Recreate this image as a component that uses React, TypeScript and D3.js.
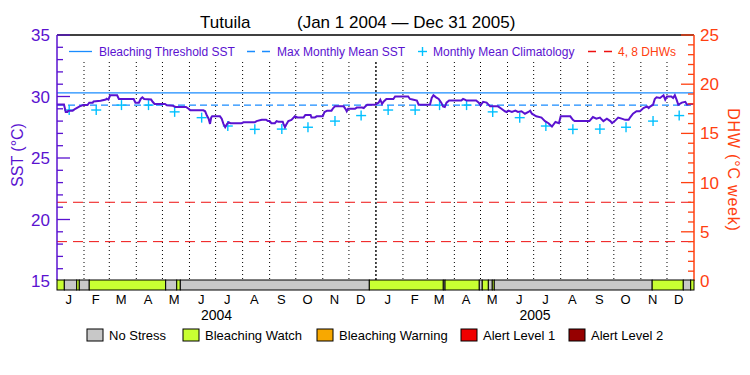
import React from 'react';
import * as d3 from 'd3';

// daily SST (days since Jan 1 2004) at the turning points
const sstDay = [0, 8, 10, 12, 13, 18, 21, 26, 30, 35, 37, 41, 42, 50, 56, 57, 59, 61, 69, 71, 88, 90, 94, 96, 98, 100, 108, 110, 112, 124, 126, 133, 136, 148, 151, 153, 168, 170, 172, 174, 175.6, 177, 178, 187, 189, 191, 193, 195, 197, 199, 212, 214, 227, 229, 235, 240, 242, 244, 246, 250, 252, 254, 259, 260, 261.6, 263, 265.5, 269, 273, 276, 283, 285, 291, 292, 296, 298, 305, 307, 310, 315, 317, 319, 329, 331, 332.5, 334, 342, 344, 350, 352, 354, 356, 365, 369, 371, 373, 375, 378, 386, 388, 403, 405, 408, 413, 415, 428, 430, 432, 435, 438, 441, 443, 445, 447, 450, 464, 466, 468, 470, 481, 484, 486, 489, 493, 497, 506, 510, 514, 516, 518, 522, 526, 529, 533, 537, 541, 543, 545, 550, 556, 560, 564, 568, 572, 576, 578, 589, 592, 594, 611, 615, 619, 623, 627, 631, 635, 637, 640, 644, 648, 652, 656, 658, 661, 665, 669, 673, 677, 679, 681, 684, 686, 688, 692, 696, 698, 700, 705, 707, 709, 711, 713, 717, 721, 723, 727, 730];
const sstVal = [29.35, 29.35, 28.75, 28.75, 28.85, 28.85, 29.0, 29.2, 29.3, 29.3, 29.5, 29.5, 29.6, 29.65, 29.75, 29.82, 29.75, 30.1, 30.1, 29.8, 29.8, 29.5, 29.5, 29.8, 29.93, 29.8, 29.75, 29.55, 29.39, 29.39, 29.29, 29.25, 29.15, 29.15, 29.0, 28.88, 28.88, 28.8, 28.45, 28.2, 27.77, 28.3, 28.39, 28.39, 28.2, 27.77, 27.5, 27.75, 27.9, 27.83, 27.83, 27.9, 27.9, 28.0, 28.11, 28.11, 28.0, 28.0, 27.83, 27.83, 28.0, 27.95, 27.95, 27.75, 27.5, 27.7, 28.0, 28.1, 28.39, 28.3, 28.3, 28.5, 28.5, 28.3, 28.3, 28.39, 28.39, 28.74, 28.85, 28.85, 29.06, 29.2, 29.2, 29.0, 28.8, 29.0, 29.0, 29.1, 29.1, 29.06, 29.2, 29.33, 29.33, 29.5, 29.74, 29.4, 29.6, 29.8, 29.8, 30.0, 30.0, 29.8, 29.75, 29.67, 29.33, 29.33, 29.88, 30.1, 29.93, 29.8, 29.5, 29.2, 29.15, 29.5, 29.67, 29.67, 29.8, 29.75, 29.67, 29.67, 29.5, 29.28, 29.57, 29.5, 29.2, 29.2, 29.0, 28.8, 28.74, 28.85, 28.74, 28.85, 28.74, 28.8, 28.6, 28.74, 28.85, 28.6, 28.39, 28.28, 28.0, 27.83, 27.56, 27.93, 27.83, 28.39, 28.39, 28.1, 28.0, 28.0, 28.33, 28.2, 28.28, 28.0, 28.2, 28.0, 27.83, 28.0, 28.28, 28.2, 28.1, 28.1, 28.33, 28.6, 28.8, 28.8, 29.06, 29.2, 29.06, 29.2, 29.33, 29.8, 29.93, 29.88, 30.1, 29.74, 30.0, 30.0, 29.88, 30.1, 29.74, 29.33, 29.5, 29.57, 29.33, 29.39, 29.39];

// monthly mean climatology, Jan..Dec
const climatology = [28.9, 28.9, 29.3, 29.3, 28.75, 28.28, 27.6, 27.33, 27.35, 27.5, 28.0, 28.45];
const maxMonthlyMean = 29.3;
const bleachingThreshold = 30.3;
const dhwLevels = [4, 8];

// stress level bar: segment boundaries (days) and level per segment
const statusBreaks = [0, 8.4, 22.6, 25.6, 37, 124.7, 137.4, 141.5, 358.4, 443.3, 445.3, 484.6, 488, 495, 499.5, 501.8, 683, 718.7, 727.2, 731];
const statusLevels = [1, 0, 1, 0, 1, 0, 1, 0, 1, 0, 1, 0, 1, 0, 1, 0, 1, 0, 1];
const statusNames = ['No Stress', 'Bleaching Watch', 'Bleaching Warning', 'Alert Level 1', 'Alert Level 2'];
const statusColors = ['#c8c8c8', '#c8ff32', '#f8a800', '#f00000', '#960000'];

const monthLetters = ['J', 'F', 'M', 'A', 'M', 'J', 'J', 'A', 'S', 'O', 'N', 'D'];
const sstTicks = [15, 20, 25, 30, 35];
const dhwTicks = [0, 5, 10, 15, 20, 25];

const PURPLE = '#5a12d0';
const ORANGE = '#ff4010';
const BLUE = '#1a8cff';
const CYAN = '#00c0ff';
const RED = '#ee1010';
const FONT = 'Liberation Sans, Arial, sans-serif';

const DAY = 864e5;
const t0 = Date.UTC(2004, 0, 1);
const toDate = (d: number) => new Date(t0 + d * DAY);

const App = () => {
  const W = 750, H = 375;
  const left = 57, right = 694, top = 35, bottom = 281;
  const barTop = 280, barBottom = 290;

  const x = d3.scaleUtc()
    .domain([new Date(t0), new Date(Date.UTC(2006, 0, 1))])
    .range([left, right]);
  const y = d3.scaleLinear().domain([15, 35]).range([bottom, top]);
  const yDhw = d3.scaleLinear().domain([0, 25]).range([bottom, top]);

  const months = d3.utcMonths(new Date(t0), new Date(Date.UTC(2006, 0, 1)));

  const sstLine = d3.line<number>()
    .x((_, i) => x(toDate(sstDay[i])))
    .y(d => y(d));

  const climPoints = months.map(m => ({
    date: new Date(m.getTime() + 14 * DAY),
    value: climatology[m.getUTCMonth()],
  }));

  const sstMinor = d3.range(15, 36, 1);
  const dhwMinor = d3.range(0, 26, 1);

  return (
    <div style={{ position: 'absolute', left: 0, top: 0 }}>
      <svg width={W} height={H} style={{ display: 'block', background: '#fff' }} fontFamily={FONT}>
        {/* title */}
        <text x={200} y={28} fontSize={17} fill="#000">Tutuila</text>
        <text x={297} y={28} fontSize={17} fill="#000">(Jan 1 2004 — Dec 31 2005)</text>

        {/* month grid */}
        {months.slice(1).map((m, i) => {
          const yearStart = m.getUTCMonth() === 0;
          return (
            <line key={'g' + i} x1={x(m)} x2={x(m)} y1={62} y2={barTop}
              stroke="#000" strokeWidth={yearStart ? 1.4 : 1}
              strokeDasharray={yearStart ? '2,2' : '1,3'} />
          );
        })}

        {/* DHW 4 and 8 */}
        {dhwLevels.map(v => (
          <line key={'d' + v} x1={left} x2={right} y1={yDhw(v)} y2={yDhw(v)}
            stroke={RED} strokeWidth={1} strokeDasharray="10,6" />
        ))}

        {/* thresholds */}
        <line x1={left} x2={right} y1={y(bleachingThreshold)} y2={y(bleachingThreshold)} stroke={BLUE} strokeWidth={1.3} />
        <line x1={left} x2={right} y1={y(maxMonthlyMean)} y2={y(maxMonthlyMean)} stroke={BLUE} strokeWidth={1.3} strokeDasharray="7,4" />

        {/* climatology crosses */}
        {climPoints.map((p, i) => {
          const cx = x(p.date), cy = y(p.value);
          return (
            <g key={'c' + i} stroke={CYAN} strokeWidth={1.4}>
              <line x1={cx - 5} x2={cx + 5} y1={cy} y2={cy} />
              <line x1={cx} x2={cx} y1={cy - 5} y2={cy + 5} />
            </g>
          );
        })}

        {/* SST */}
        <path d={sstLine(sstVal) || ''} fill="none" stroke={PURPLE} strokeWidth={2} strokeLinejoin="miter" />

        {/* top border */}
        <line x1={left} x2={right} y1={top} y2={top} stroke="#000" strokeWidth={1.3} />

        {/* legend inside plot */}
        <g fontSize={12}>
          <line x1={69} x2={92} y1={51.5} y2={51.5} stroke={BLUE} strokeWidth={1.3} />
          <text x={99} y={55.5} fill={PURPLE}>Bleaching Threshold SST</text>
          <line x1={247} x2={270} y1={51.5} y2={51.5} stroke={BLUE} strokeWidth={1.3} strokeDasharray="8,7" />
          <text x={277} y={55.5} fill={PURPLE}>Max Monthly Mean SST</text>
          <line x1={418} x2={427} y1={51.5} y2={51.5} stroke={CYAN} strokeWidth={1.4} />
          <line x1={422.5} x2={422.5} y1={47} y2={56} stroke={CYAN} strokeWidth={1.4} />
          <text x={433} y={55.5} fill={PURPLE}>Monthly Mean Climatology</text>
          <line x1={588} x2={612} y1={51.5} y2={51.5} stroke={RED} strokeWidth={1.3} strokeDasharray="8,8" />
          <text x={618} y={55.5} fill={ORANGE}>4, 8 DHWs</text>
        </g>

        {/* left axis */}
        <line x1={left} x2={left} y1={top} y2={barTop} stroke={PURPLE} strokeWidth={1.5} />
        {sstMinor.map(v => (
          <line key={'sm' + v} x1={left} x2={left + (v % 5 === 0 ? 13 : 6)} y1={y(v)} y2={y(v)} stroke={PURPLE} strokeWidth={1.3} />
        ))}
        {sstTicks.map(v => (
          <text key={'st' + v} x={50} y={y(v) + 6} textAnchor="end" fontSize={17} fill={PURPLE}>{v}</text>
        ))}
        <text transform="translate(23,155) rotate(-90)" textAnchor="middle" fontSize={16} fill={PURPLE}>SST (°C)</text>

        {/* right axis */}
        <line x1={right} x2={right} y1={top} y2={bottom} stroke={ORANGE} strokeWidth={1.5} />
        {dhwMinor.map(v => (
          <line key={'dm' + v} x1={right - (v % 5 === 0 ? 13 : 6)} x2={right} y1={yDhw(v)} y2={yDhw(v)} stroke={ORANGE} strokeWidth={1.3} />
        ))}
        {dhwTicks.map(v => (
          <text key={'dt' + v} x={700} y={yDhw(v) + 6} fontSize={17} fill={ORANGE}>{v}</text>
        ))}
        <text transform="translate(728,170) rotate(90)" textAnchor="middle" fontSize={16} fill={ORANGE} letterSpacing={0.8}>DHW (°C week)</text>

        {/* stress level bar */}
        {statusLevels.map((lvl, i) => {
          const x0 = x(toDate(statusBreaks[i]));
          const x1 = x(toDate(statusBreaks[i + 1]));
          return (
            <rect key={'s' + i} x={x0} y={barTop} width={x1 - x0} height={barBottom - barTop}
              fill={statusColors[lvl]} stroke="#000" strokeWidth={1} />
          );
        })}

        {/* month letters and years */}
        {months.map((m, i) => (
          <text key={'m' + i} x={x(new Date(m.getTime() + 13.5 * DAY))} y={304} textAnchor="middle" fontSize={13} fill="#000">
            {monthLetters[m.getUTCMonth()]}
          </text>
        ))}
        {[2004, 2005].map(yr => (
          <text key={'y' + yr} x={(x(new Date(Date.UTC(yr, 0, 1))) + x(new Date(Date.UTC(yr + 1, 0, 1)))) / 2} y={320}
            textAnchor="middle" fontSize={14} fill="#000">{yr}</text>
        ))}

        {/* stress legend */}
        {[87, 183, 317, 461, 569].map((lx, i) => (
          <g key={'l' + i}>
            <rect x={lx} y={329} width={16} height={12} fill={statusColors[i]} stroke="#000" strokeWidth={1} />
            <text x={lx + 22} y={340} fontSize={13} fill="#000">{statusNames[i]}</text>
          </g>
        ))}
      </svg>
    </div>
  );
};

export default App;
